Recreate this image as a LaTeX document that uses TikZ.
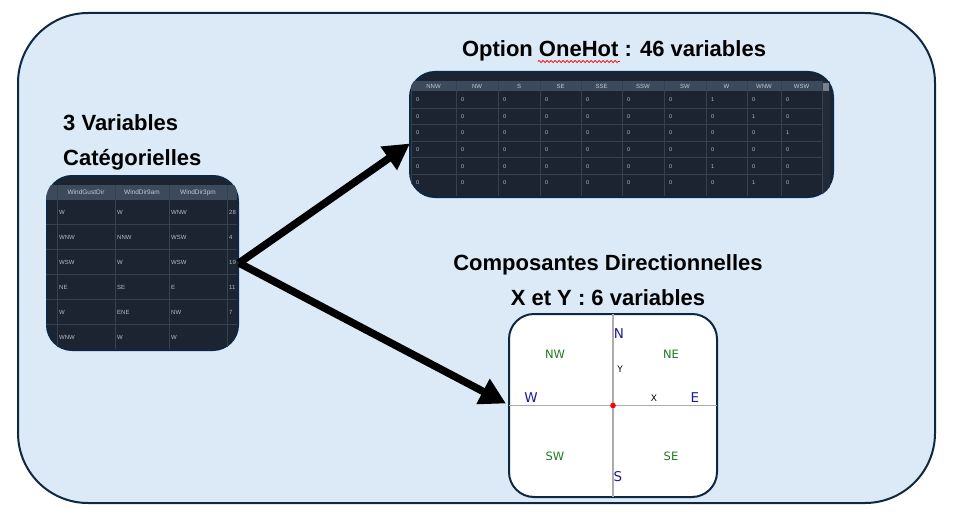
\documentclass[tikz,border=0pt]{standalone}
\usepackage{fontspec}
\setmainfont{Liberation Sans}
\newfontfamily\dejavu{DejaVu Sans}
\usetikzlibrary{positioning,calc,arrows.meta,decorations.pathmorphing}

\definecolor{panelblue}{HTML}{DCE9F6}
\definecolor{navyline}{HTML}{0E2841}
\definecolor{tabbg}{HTML}{1B2430}
\definecolor{tabhead}{HTML}{3D4A5B}
\definecolor{tabgrid}{HTML}{36414F}
\definecolor{tabtext}{HTML}{B4BCC6}
\definecolor{compblue}{HTML}{1A1A9C}
\definecolor{compgreen}{HTML}{1E7B1E}

\tikzset{
  panel/.style={draw=navyline, line width=2pt, fill=panelblue, rounded corners=70pt,
    inner sep=0pt, minimum width=917pt, minimum height=490pt},
  darktab/.style={draw=navyline, line width=2pt, fill=tabbg, rounded corners=25pt, inner sep=0pt},
  compbox/.style={draw=navyline, line width=2pt, fill=white, rounded corners=25pt, inner sep=0pt,
    minimum width=208pt, minimum height=183pt},
  title/.style={font=\bfseries\fontsize{22}{26}\selectfont, inner sep=0pt},
  headtxt/.style={text=tabtext!80!white, font=\fontsize{6.5}{7}\selectfont, inner sep=0pt},
  celltxt/.style={text=tabtext, font=\fontsize{6}{7}\selectfont, anchor=west, inner sep=0pt},
  fatarrow/.style={line width=7.5pt, -{Triangle[length=26pt, width=27pt]}},
  cardinal/.style={text=compblue, font=\dejavu\fontsize{13.5}{14}\selectfont, inner sep=0pt},
  intercard/.style={text=compgreen, font=\dejavu\fontsize{11.5}{13}\selectfont, inner sep=0pt},
  axislabel/.style={font=\dejavu\fontsize{9}{10}\selectfont, inner sep=0pt},
}

\begin{document}
\begin{tikzpicture}[x=1pt, y=-1pt]
  \useasboundingbox (0,0) rectangle (957,513);

  % background panel
  \node[panel] (frame) at (476.5,258) {};

  % tables and compass
  \node[darktab, minimum width=191pt, minimum height=174pt] (ltab) at (142.5,263) {};
  \node[darktab, minimum width=423pt, minimum height=125pt] (otab) at (621.5,134.5) {};
  \node[compbox] (cbox) at (613,405.5) {};

  % left table: categorical columns
  \begin{scope}
    \clip[rounded corners=25pt] (ltab.north west) rectangle (ltab.south east);
    \begin{scope}[shift={(ltab.north west)}]
      \fill[tabhead] (0,10) rectangle (191,25);
      \foreach \k in {1,...,5}
        \draw[tabgrid, line width=1pt] (0,24.5+25*\k) -- (191,24.5+25*\k);
      \foreach \gx in {11,69,123,181}
        \draw[tabgrid, line width=1pt] (\gx,10) -- (\gx,174);
      \foreach \lbl/\hx [count=\c] in {WindGustDir/40,WindDir9am/96,WindDir3pm/152}
        \node[headtxt] (lh\c) at (\hx,17.5) {\lbl};
      \foreach \row [count=\r] in {{W,W,WNW,28},{WNW,NNW,WSW,4},{WSW,W,WSW,19},
                                   {NE,SE,E,11},{W,ENE,NW,7},{WNW,W,W}}
        \foreach \v [count=\c] in \row {
          \pgfmathsetmacro\cx{{13,71,125,183}[\c-1]}
          \node[celltxt] (lc\r\c) at (\cx,12+25*\r) {\v};
        }
    \end{scope}
  \end{scope}

  % top table: one-hot columns
  \begin{scope}
    \clip[rounded corners=25pt] (otab.north west) rectangle (otab.south east);
    \begin{scope}[shift={(otab.north west)}]
      \fill[tabhead] (2,10) rectangle (413,20.5);
      \fill[tabbg!80!tabhead] (413,10) rectangle (421,125);
      \fill[tabhead!70!white] (414,12) rectangle (420,20);
      \foreach \k in {1,...,5}
        \draw[tabgrid, line width=1pt] (2,20.5+16.6*\k) -- (413,20.5+16.6*\k);
      \foreach \gx in {2,47,89,131,172,213,255,297,338,372,413}
        \draw[tabgrid, line width=1pt] (\gx,10) -- (\gx,125);
      \foreach \lbl/\hx [count=\c] in {NNW/24.5,NW/68,S/110,SE/151.5,SSE/192.5,
                                       SSW/234,SW/276,W/317.5,WNW/355,WSW/392.5}
        \node[headtxt, font=\fontsize{6}{6}\selectfont] (oh\c) at (\hx,15.5) {\lbl};
      \foreach \row [count=\r] in {{0,0,0,0,0,0,0,1,0,0},{0,0,0,0,0,0,0,0,1,0},
                                   {0,0,0,0,0,0,0,0,0,1},{0,0,0,0,0,0,0,0,0,0},
                                   {0,0,0,0,0,0,0,1,0,0},{0,0,0,0,0,0,0,0,1,0}}
        \foreach \v [count=\c] in \row {
          \pgfmathsetmacro\cx{{2,47,89,131,172,213,255,297,338,372}[\c-1]+5}
          \node[celltxt, font=\fontsize{5.5}{6}\selectfont] (oc\r\c) at (\cx,12.2+16.6*\r) {\v};
        }
    \end{scope}
  \end{scope}

  % compass axes
  \draw[gray!65, line width=1.5pt, shorten <=1pt, shorten >=1pt] (cbox.west) -- (cbox.east);
  \draw[gray!65, line width=1.5pt, shorten <=1pt, shorten >=1pt] (cbox.north) -- (cbox.south);
  \fill[red] (cbox.center) circle (2.8pt);
  \node[cardinal] (cN) at ([shift={(6,-71.5)}]cbox.center) {N};
  \node[cardinal] (cS) at ([shift={(5,71.5)}]cbox.center) {S};
  \node[cardinal] (cW) at ([shift={(-82,-8)}]cbox.center) {W};
  \node[cardinal] (cE) at ([shift={(82,-8)}]cbox.center) {E};
  \node[intercard] (cNW) at ([shift={(-58,-51.5)}]cbox.center) {NW};
  \node[intercard] (cNE) at ([shift={(58,-51.5)}]cbox.center) {NE};
  \node[intercard] (cSW) at ([shift={(-58,50.5)}]cbox.center) {SW};
  \node[intercard] (cSE) at ([shift={(58,50.5)}]cbox.center) {SE};
  \node[axislabel] (cY) at ([shift={(7,-36)}]cbox.center) {Y};
  \node[axislabel] (cX) at ([shift={(41,-7)}]cbox.center) {X};

  % arrows
  \coordinate (otip) at ([shift={(1,9)}]otab.west);
  \coordinate (ctip) at ([shift={(-2,-2)}]cbox.west);
  \draw[fatarrow] (ltab.east) -- (otip);
  \draw[fatarrow] (ltab.east) -- (ctip);

  % titles
  \node[title, anchor=base west] (tcat1) at (63,131) {3 Variables};
  \node[title, anchor=base west] (tcat2) at (63,165) {Catégorielles};
  \node[title, anchor=base] (ttop) at (614,57) {Option OneHot : 46 variables};
  \node[title, anchor=base] (tdir1) at (608,270) {Composantes Directionnelles};
  \node[title, anchor=base] (tdir2) at (608,305) {X et Y : 6 variables};
  \draw[red, line width=0.7pt, decorate, decoration={snake, amplitude=1.1pt, segment length=4pt}]
    ([shift={(76,4.5)}]ttop.base west) -- ++(82,0);
\end{tikzpicture}
\end{document}
